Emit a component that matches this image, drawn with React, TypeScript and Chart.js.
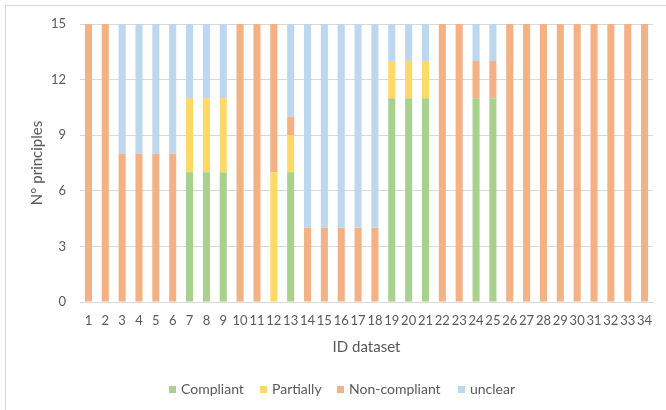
import React, { useEffect, useRef } from "react";
import { Chart, registerables } from "chart.js";

Chart.register(...registerables);

const categories = Array.from({ length: 34 }, (_, i) => String(i + 1));

const compliant = [0, 0, 0, 0, 0, 0, 7, 7, 7, 0, 0, 0, 7, 0, 0, 0, 0, 0, 11, 11, 11, 0, 0, 11, 11, 0, 0, 0, 0, 0, 0, 0, 0, 0];
const partially = [0, 0, 0, 0, 0, 0, 4, 4, 4, 0, 0, 7, 2, 0, 0, 0, 0, 0, 2, 2, 2, 0, 0, 0, 0, 0, 0, 0, 0, 0, 0, 0, 0, 0];
const nonCompliant = [15, 15, 8, 8, 8, 8, 0, 0, 0, 15, 15, 8, 1, 4, 4, 4, 4, 4, 0, 0, 0, 15, 15, 2, 2, 15, 15, 15, 15, 15, 15, 15, 15, 15];
const unclear = [0, 0, 7, 7, 7, 7, 4, 4, 4, 0, 0, 0, 5, 11, 11, 11, 11, 11, 2, 2, 2, 0, 0, 2, 2, 0, 0, 0, 0, 0, 0, 0, 0, 0];

const seriesNames = ["Compliant", "Partially", "Non-compliant", "unclear"];
const seriesColors = ["#A9D18E", "#FFD966", "#F4B183", "#BDD7EE"];

const yTitle = "N° principles";
const xTitle = "ID dataset";

const FONT = "Lato, 'Open Sans', sans-serif";
const TEXT = "#595959";
// layout only: left edge of each legend marker
const LEGEND_LEFT = [169, 260, 337, 458];

export default function App() {
  const canvasRef = useRef<HTMLCanvasElement | null>(null);

  useEffect(() => {
    const canvas = canvasRef.current;
    if (!canvas) return;
    const values = [compliant, partially, nonCompliant, unclear];
    const chart = new Chart(canvas, {
      type: "bar",
      data: {
        labels: categories,
        datasets: values.map((v, i) => ({
          label: seriesNames[i],
          data: v,
          backgroundColor: seriesColors[i],
          borderWidth: 0,
          categoryPercentage: 0.84,
          barPercentage: 0.5,
        })),
      },
      options: {
        responsive: false,
        animation: false,
        maintainAspectRatio: false,
        layout: { padding: { left: 28, top: 24, right: 13, bottom: 54 } },
        plugins: {
          legend: { display: false },
          tooltip: { enabled: false },
        },
        scales: {
          x: {
            stacked: true,
            grid: { display: false, drawTicks: false },
            border: { display: true, color: "#D9D9D9", width: 1 },
            ticks: {
              autoSkip: false,
              maxRotation: 0,
              minRotation: 0,
              padding: 11,
              color: TEXT,
              font: { family: FONT, size: 13 },
            },
            title: {
              display: true,
              text: xTitle,
              color: TEXT,
              font: { family: FONT, size: 15 },
              padding: { top: 0, bottom: 0 },
            },
            afterFit: (s: any) => {
              s.height = 54;
            },
          },
          y: {
            stacked: true,
            min: 0,
            max: 15,
            grid: { color: "#D9D9D9", lineWidth: 1, drawTicks: false },
            border: { display: false },
            ticks: {
              stepSize: 3,
              padding: 14,
              color: TEXT,
              font: { family: FONT, size: 13 },
            },
            title: {
              display: true,
              text: yTitle,
              color: TEXT,
              font: { family: FONT, size: 15 },
              padding: { top: 0, bottom: 0 },
            },
            afterFit: (s: any) => {
              s.width = 52;
            },
          },
        },
      },
    });
    return () => chart.destroy();
  }, []);

  return (
    <div style={{ position: "fixed", left: 0, top: 0, width: 666, height: 410, overflow: "hidden", background: "#fff" }}>
      <div
        style={{
          position: "absolute",
          left: 5,
          top: 5,
          width: 720,
          height: 480,
          border: "1.5px solid #D9D9D9",
          boxSizing: "border-box",
        }}
      />
      <canvas ref={canvasRef} width={666} height={410} style={{ position: "absolute", left: 0, top: 0, width: 666, height: 410 }} />
      {seriesNames.map((name, i) => (
        <div
          key={name}
          style={{
            position: "absolute",
            left: LEGEND_LEFT[i],
            top: 380,
            display: "flex",
            alignItems: "center",
            fontFamily: FONT,
            fontSize: 14,
            color: TEXT,
            lineHeight: "18px",
            whiteSpace: "nowrap",
          }}
        >
          <span style={{ width: 7, height: 7, background: seriesColors[i], display: "inline-block", marginRight: 5 }} />
          <span>{name}</span>
        </div>
      ))}
    </div>
  );
}
